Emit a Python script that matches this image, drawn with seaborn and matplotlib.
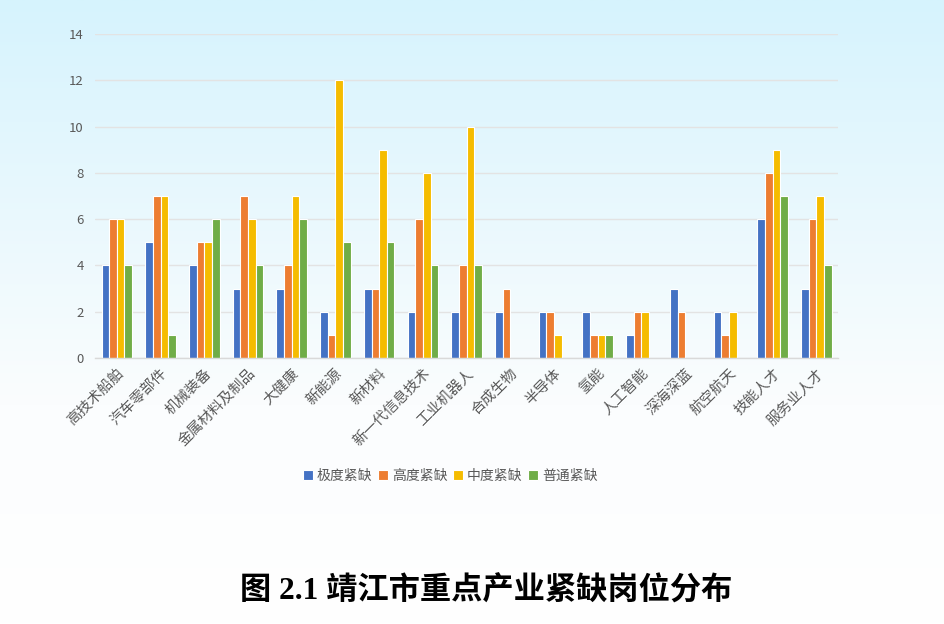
import numpy as np
import pandas as pd
import seaborn as sns
import matplotlib.pyplot as plt
from matplotlib.colors import LinearSegmentedColormap

# === DATA ===
industries = ["高技术船舶", "汽车零部件", "机械装备", "金属材料及制品", "大健康", "新能源",
              "新材料", "新一代信息技术", "工业机器人", "合成生物", "半导体", "氢能",
              "人工智能", "深海深蓝", "航空航天", "技能人才", "服务业人才"]
levels = ["极度紧缺", "高度紧缺", "中度紧缺", "普通紧缺"]
extreme = [4, 5, 4, 3, 3, 2, 3, 2, 2, 2, 2, 2, 1, 3, 2, 6, 3]
high = [6, 7, 5, 7, 4, 1, 3, 6, 4, 3, 2, 1, 2, 2, 1, 8, 6]
medium = [6, 7, 5, 6, 7, 12, 9, 8, 10, 0, 1, 1, 2, 0, 2, 9, 7]
normal = [4, 1, 6, 4, 6, 5, 5, 4, 4, 0, 0, 1, 0, 0, 0, 7, 4]

df = pd.DataFrame({"industry": industries, levels[0]: extreme, levels[1]: high,
                   levels[2]: medium, levels[3]: normal})
long_df = df.melt(id_vars="industry", var_name="level", value_name="count")

palette = ["#4472C4", "#ED7D31", "#F5BC00", "#70AD47"]

# === FIGURE ===
sns.set_style("white")
plt.rcParams['font.family'] = ['Noto Sans CJK SC', 'DejaVu Sans']

fig = plt.figure(figsize=(9.45, 6.24), dpi=100)

# background gradient: light blue at top fading to white
bg = fig.add_axes([0, 0, 1, 1], zorder=-10)
cmap = LinearSegmentedColormap.from_list("bg", [(0, "#ffffff"), (0.35, "#fbfdfe"), (1, "#d6f3fd")])
grad = np.linspace(0, 1, 256).reshape(-1, 1)
bg.imshow(grad, aspect="auto", cmap=cmap, origin="lower", extent=[0, 1, 0, 1])
bg.axis("off")

ax = fig.add_axes([0.1005, 0.4263, 0.7865, 0.5192])
ax.set_facecolor("none")
sns.barplot(data=long_df, x="industry", y="count", hue="level", palette=palette,
            width=0.7, edgecolor="white", linewidth=0.8, saturation=1, ax=ax,
            legend=True)

ax.set_ylim(0, 14)
ax.set_yticks(range(0, 15, 2))
ax.set_xlim(-0.5, len(industries) - 0.5)
ax.yaxis.grid(True, color="#e3e3e3", linewidth=1)
ax.set_axisbelow(True)
for s in ["top", "right", "left"]:
    ax.spines[s].set_visible(False)
ax.spines["bottom"].set_color("#d9d9d9")
ax.spines["bottom"].set_linewidth(1)
ax.tick_params(axis="both", length=0, colors="#595959")
ax.tick_params(axis="y", labelsize=9.5, pad=8)
ax.set_xticks(range(len(industries)))
ax.set_xticklabels(industries, rotation=45, ha="right", rotation_mode="anchor",
                   fontsize=10.5, color="#595959")
ax.tick_params(axis="x", pad=6)
ax.set_xlabel("")
ax.set_ylabel("")

leg = ax.legend(loc="center", bbox_to_anchor=(0.478, -0.364), ncol=4, frameon=False,
                fontsize=10, handlelength=0.7, handleheight=0.7, handletextpad=0.3,
                columnspacing=0.4)
for t in leg.get_texts():
    t.set_color("#595959")

fig.text(0.515, 0.052, "图 2.1 靖江市重点产业紧缺岗位分布", ha="center", va="center",
         fontsize=22.5, fontweight="bold", color="#000000",
         family=["Liberation Serif", "Noto Sans CJK SC"])

fig.savefig("out.png", dpi=100)
